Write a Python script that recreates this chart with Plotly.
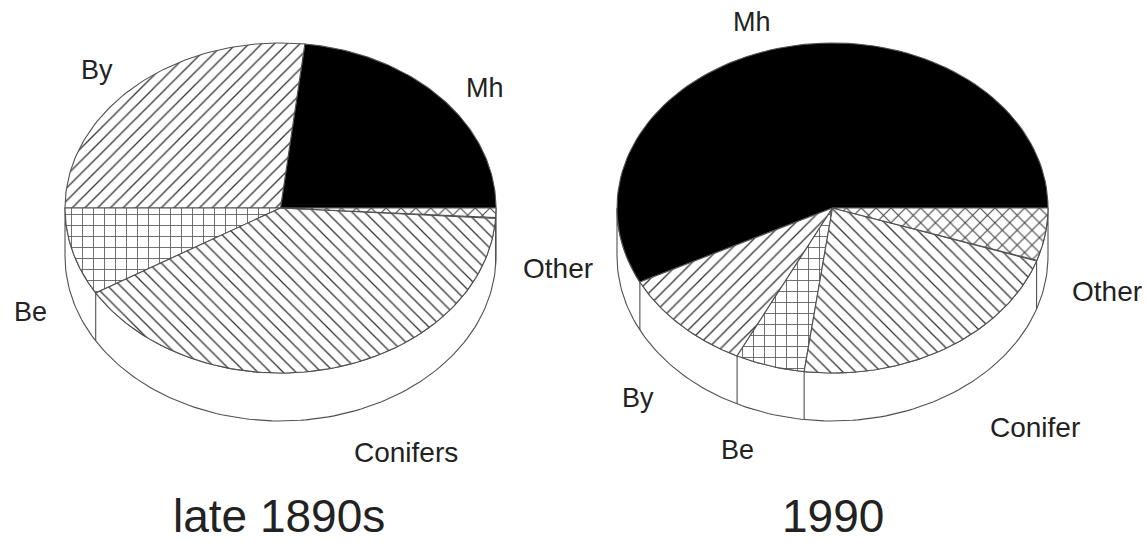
import numpy as np
import plotly.graph_objects as go

# Values: share of each species, percent
categories = ["Mh", "By", "Be", "Conifers", "Other"]
late_1890s = [23.2, 26.8, 8.6, 40.4, 1.0]
y_1990 = [57.4, 10.3, 5.2, 21.9, 5.2]

labels_left = ["By", "Mh", "Other", "Be", "Conifers"]
labels_right = ["Mh", "Other", "By", "Be", "Conifer"]
titles = ["late 1890s", "1990"]

LINE = "#505050"
RX, RY, DEPTH = 215.5, 165, 48
STYLES = [
    dict(fillcolor="#000000"),
    dict(fillpattern=dict(shape="/", size=9, solidity=0.14, fgcolor="#333333", fgopacity=1, bgcolor="white")),
    dict(fillpattern=dict(shape="+", size=11, solidity=0.15, fgcolor="#5a5a5a", fgopacity=1, bgcolor="white")),
    dict(fillpattern=dict(shape="\\", size=9, solidity=0.14, fgcolor="#333333", fgopacity=1, bgcolor="white")),
    dict(fillpattern=dict(shape="x", size=10.5, solidity=0.2, fgcolor="#444444", fgopacity=1, bgcolor="white")),
]

fig = go.Figure()


def ell(cx, cy, t):
    t = np.radians(t)
    return cx + RX * np.cos(t), cy - RY * np.sin(t)


def add_poly(xs, ys, color=LINE, width=1.1, **style):
    fig.add_trace(go.Scatter(x=xs, y=ys, mode="lines", fill="toself" if style else None,
                             line=dict(color=color, width=width), hoverinfo="skip",
                             showlegend=False, **style))


def pie3d(values, cx, cy):
    # side wall
    t = np.linspace(180, 360, 120)
    x, y = ell(cx, cy, t)
    wx = np.concatenate([x, x[::-1], x[:1]])
    wy = np.concatenate([y + DEPTH, y[::-1], y[:1] + DEPTH])
    add_poly(wx, wy, fillcolor="white")
    edges = np.concatenate([[0], np.cumsum(values) / np.sum(values) * 360])
    # slices
    for i, st in enumerate(STYLES):
        t = np.linspace(edges[i], edges[i + 1], 90)
        x, y = ell(cx, cy, t)
        add_poly(np.concatenate([[cx], x, [cx]]), np.concatenate([[cy], y, [cy]]), **st)
    # wall edges below the slice boundaries
    for e in edges[1:-1]:
        if 180 < e < 360:
            x, y = ell(cx, cy, e)
            add_poly([x, x], [y, y + DEPTH])


pie3d(late_1890s, 280.5, 208)
pie3d(y_1990, 832.5, 208)

texts = [
    (labels_left[0], 97, 70, 27), (labels_left[1], 485, 88, 27), (labels_left[2], 558, 268, 28),
    (labels_left[3], 30, 312, 27), (labels_left[4], 406, 452, 28),
    (labels_right[0], 752, 22, 27), (labels_right[1], 1107, 291, 28), (labels_right[2], 638, 398, 27),
    (labels_right[3], 737, 450, 27), (labels_right[4], 1035, 427, 28),
    (titles[0], 279, 516, 46), (titles[1], 833, 516, 46),
]
for s, x, y, size in texts:
    fig.add_annotation(x=x, y=y, text=s, showarrow=False, xanchor="center", yanchor="middle",
                       font=dict(family="Liberation Sans", size=size, color="#222222"))

fig.update_layout(
    width=1147, height=543, margin=dict(l=0, r=0, t=0, b=0),
    paper_bgcolor="white", plot_bgcolor="white", showlegend=False,
    xaxis=dict(visible=False, range=[0, 1147], fixedrange=True),
    yaxis=dict(visible=False, range=[543, 0], fixedrange=True),
)
fig.write_html("out.html", config=dict(displayModeBar=False),
               post_script="document.body.style.margin='0';document.body.style.overflow='hidden';")
